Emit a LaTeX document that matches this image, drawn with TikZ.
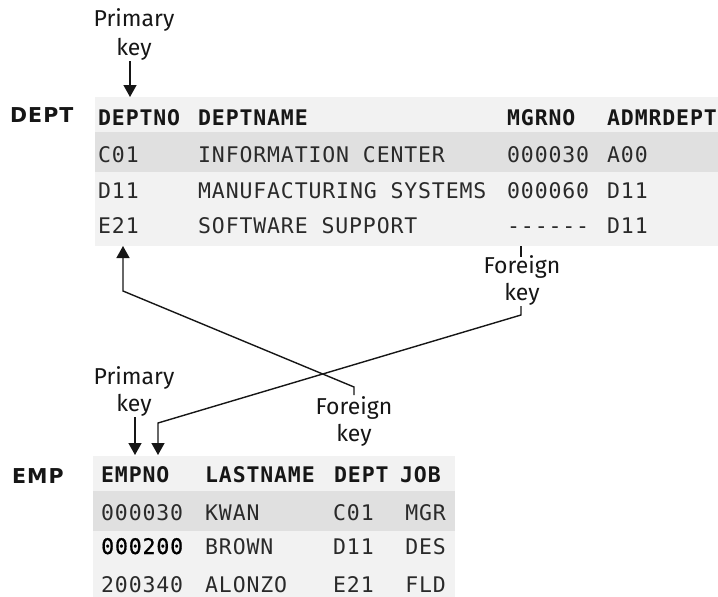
\documentclass[tikz,border=0pt]{standalone}
\usepackage{fontspec}
\setmainfont{Fira Sans}
\newfontfamily\monof[LetterSpace=4]{DejaVu Sans Mono}
\newfontfamily\monofm[LetterSpace=4,FakeBold=0.8]{DejaVu Sans Mono}
\newfontfamily\namef[LetterSpace=5]{DejaVu Sans}
\usetikzlibrary{arrows.meta}
\definecolor{ink}{HTML}{161616}
\definecolor{cellink}{HTML}{2A2A2A}
\definecolor{rowlight}{HTML}{F2F2F2}
\definecolor{rowdark}{HTML}{E0E0E0}
\tikzset{
  cell/.style={anchor=base west, inner sep=0pt, text=cellink, font=\monof\fontsize{21.5}{25}\selectfont},
  mcell/.style={cell, text=black, font=\monofm\fontsize{21.5}{25}\selectfont},
  hcell/.style={cell, text=ink, font=\monof\bfseries\fontsize{21.5}{25}\selectfont},
  rcell/.style={cell, anchor=base east},
  lbl/.style={anchor=base, inner sep=0pt, text=ink, font=\fontsize{23}{27}\selectfont},
  tname/.style={anchor=base west, inner sep=0pt, text=ink, font=\namef\bfseries\fontsize{20.5}{25}\selectfont},
  conn/.style={draw=ink, line width=1.4pt},
  arr/.style={conn, -{Triangle[length=12pt,width=13pt]}},
}
\begin{document}
\begin{tikzpicture}[x=1pt,y=-1pt]
\useasboundingbox (0,0) rectangle (718,597);
% DEPT table background
\fill[rowlight] (95,97) rectangle (718,246);
\fill[rowdark] (95,132) rectangle (718,172);
% EMP table background
\fill[rowlight] (93,456) rectangle (455,597);
\fill[rowdark] (93,491) rectangle (455,531);

% table names
\node[tname] (deptname) at (10,122) {DEPT};
\node[tname] (empname) at (12,483) {EMP};

% DEPT header
\node[hcell] (dh1) at (98,125) {DEPTNO};
\node[hcell] (dh2) at (198,125) {DEPTNAME};
\node[hcell] (dh3) at (507,125) {MGRNO};
\node[hcell] (dh4) at (607,125) {ADMRDEPT};
% DEPT rows
\node[cell] (d11) at (98,162) {C01};
\node[cell] (d12) at (198,162) {INFORMATION CENTER};
\node[cell] (d13) at (507,162) {000030};
\node[cell] (d14) at (607,162) {A00};
\node[cell] (d21) at (98,198) {D11};
\node[cell] (d22) at (198,198) {MANUFACTURING SYSTEMS};
\node[cell] (d23) at (507,198) {000060};
\node[cell] (d24) at (607,198) {D11};
\node[cell] (d31) at (98,233) {E21};
\node[cell] (d32) at (198,233) {SOFTWARE SUPPORT};
\node[cell] (d33) at (507,233) {------};
\node[cell] (d34) at (607,233) {D11};

% EMP header
\node[hcell] (eh1) at (101,482) {EMPNO};
\node[hcell] (eh2) at (205,482) {LASTNAME};
\node[hcell] (eh3) at (334,482) {DEPT};
\node[hcell] (eh4) at (400,482) {JOB};
% EMP rows
\node[cell] (e11) at (101,520) {000030};
\node[cell] (e12) at (205,520) {KWAN};
\node[cell] (e13) at (333,520) {C01};
\node[rcell] (e14) at (446,520) {MGR};
\node[mcell] (e21) at (101,554) {000200};
\node[cell] (e22) at (205,554) {BROWN};
\node[cell] (e23) at (333,554) {D11};
\node[rcell] (e24) at (446,554) {DES};
\node[cell] (e31) at (101,592) {200340};
\node[cell] (e32) at (205,592) {ALONZO};
\node[cell] (e33) at (333,592) {E21};
\node[rcell] (e34) at (446,592) {FLD};

% labels
\node[lbl] (pkdA) at (134,27) {Primary};
\node[lbl] (pkdB) at (134,55) {key};
\node[lbl] (fkdA) at (522,273) {Foreign};
\node[lbl] (fkdB) at (522,300) {key};
\node[lbl] (pkeA) at (134,384) {Primary};
\node[lbl] (pkeB) at (134,411) {key};
\node[lbl] (fkeA) at (354,414) {Foreign};
\node[lbl] (fkeB) at (354,441) {key};

% connector points
\coordinate (pkdS) at (130,61);
\coordinate (pkdT) at (130,97);
\coordinate (pkeS) at (135,417);
\coordinate (pkeT) at (135,455);
\coordinate (fkdTop1) at (521,246);
\coordinate (fkdTop2) at (521,257);
\coordinate (fkdBot1) at (521,306);
\coordinate (fkdBot2) at (521,315);
\coordinate (fkdBend) at (158,423);
\coordinate (fkdT) at (158,455);
\coordinate (fkeS) at (354,395);
\coordinate (fkeTop) at (354,387);
\coordinate (fkeBend) at (123,291);
\coordinate (fkeT) at (123,246);

\draw[arr] (pkdS) -- (pkdT);
\draw[arr] (pkeS) -- (pkeT);
\draw[conn] (fkdTop1) -- (fkdTop2);
\draw[arr] (fkdBot1) -- (fkdBot2) -- (fkdBend) -- (fkdT);
\draw[arr] (fkeS) -- (fkeTop) -- (fkeBend) -- (fkeT);
\end{tikzpicture}
\end{document}
